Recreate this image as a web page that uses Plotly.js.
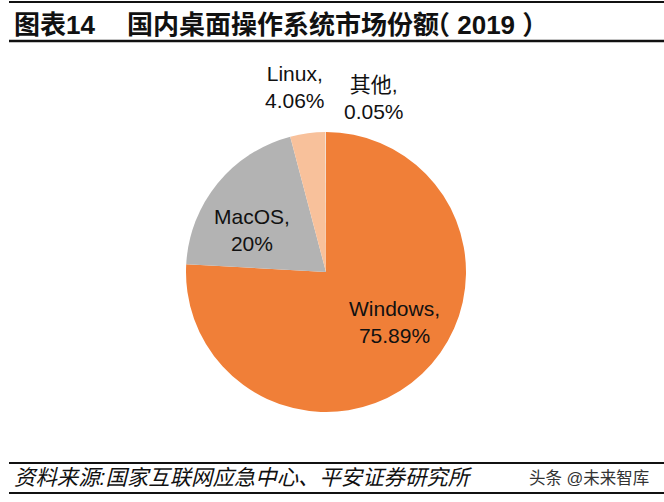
<!DOCTYPE html>
<html><head><meta charset="utf-8">
<script src="https://cdn.plot.ly/plotly-3.0.1.min.js"></script>
<style>html,body{margin:0;padding:0;background:#fff}#c{width:664px;height:502px}</style>
</head><body><div id="c"></div>
<script>
const categories = ["Windows", "MacOS", "Linux", "其他"];
const shares = [75.89, 20, 4.06, 0.05];
const shareLabels = ["75.89%", "20%", "4.06%", "0.05%"];
const sliceColors = ["#F07F38", "#B3B3B3", "#F8C19B", "#E8E8E8"];
const titleNumber = "图表14";
const titleMain = "国内桌面操作系统市场份额";
const titleYear = "（ 2019 ）";
const sourceText = "资料来源:国家互联网应急中心、平安证券研究所";
const watermark = "头条 @未来智库";

const W = 664, H = 502;
const cjk = '"Liberation Sans","Noto Sans CJK SC",sans-serif';
const labelPos = [[394, 322], [252, 230], [295, 87], [374, 98]];
const px = x => x / W, py = y => 1 - y / H;

const annotations = categories.map((c, i) => ({
  xref: "paper", yref: "paper", x: px(labelPos[i][0]), y: py(labelPos[i][1]),
  xanchor: "center", yanchor: "middle", showarrow: false, align: "center",
  text: c + ",<br>" + shareLabels[i],
  font: { family: cjk, size: 21, color: "#111" }
}));
const textNote = (text, x, y, size, extra) => ({
  xref: "paper", yref: "paper", x: px(x), y: py(y), xanchor: "left", yanchor: "middle",
  showarrow: false, text, font: Object.assign({ family: cjk, size, color: "#111" }, extra || {})
});
annotations.push(textNote("<b>" + titleNumber + "</b>", 12, 25, 26));
annotations.push(textNote("<b>" + titleMain + "</b>", 125, 25, 26));
annotations.push(textNote("<b>" + titleYear + "</b>", 422, 25, 26));
annotations.push(textNote("<i>" + sourceText + "</i>", 12, 478, 21.4));
annotations.push(textNote(watermark, 527, 478, 16.5, { color: "#333" }));

const rule = (y, w) => ({
  type: "line", xref: "paper", yref: "paper", x0: px(9), x1: px(W), y0: py(y), y1: py(y),
  line: { color: "#111", width: w }
});

Plotly.newPlot("c", [{
  type: "pie", labels: categories, values: shares, sort: false, direction: "clockwise", rotation: 0,
  textinfo: "none", hoverinfo: "label+percent",
  marker: { colors: sliceColors, line: { color: "#fff", width: 0 } },
  domain: { x: [186 / W, 466 / W], y: [1 - 412 / H, 1 - 132 / H] }
}], {
  width: W, height: H, margin: { l: 0, r: 0, t: 0, b: 0 }, showlegend: false,
  paper_bgcolor: "#fff", annotations,
  shapes: [rule(2, 2), rule(41, 2.5), rule(463, 2), rule(493, 2)]
}, { displayModeBar: false, staticPlot: true });
</script></body></html>
